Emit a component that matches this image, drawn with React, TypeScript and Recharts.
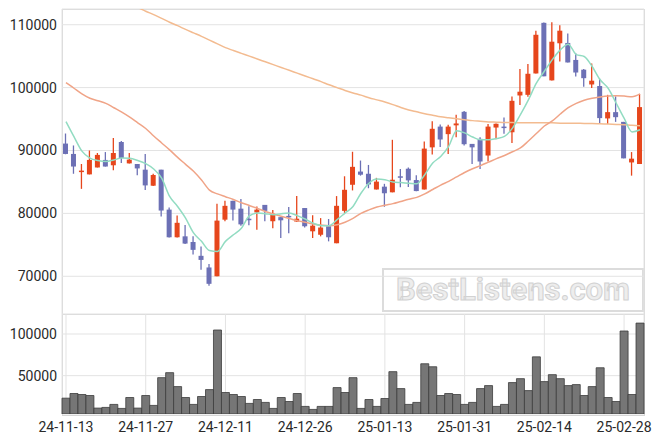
import React from 'react';
import { ComposedChart, BarChart, Bar, Line, XAxis, YAxis, CartesianGrid } from 'recharts';

const dates = [
  '24-11-13', '24-11-14', '24-11-15', '24-11-18', '24-11-19', '24-11-20', '24-11-21', '24-11-22', '24-11-25', '24-11-26',
  '24-11-27', '24-11-28', '24-11-29', '24-12-02', '24-12-03', '24-12-04', '24-12-05', '24-12-06', '24-12-09', '24-12-10',
  '24-12-11', '24-12-12', '24-12-13', '24-12-16', '24-12-17', '24-12-18', '24-12-19', '24-12-20', '24-12-23', '24-12-24',
  '24-12-26', '24-12-27', '24-12-30', '25-01-02', '25-01-03', '25-01-06', '25-01-07', '25-01-08', '25-01-09', '25-01-10',
  '25-01-13', '25-01-14', '25-01-15', '25-01-16', '25-01-17', '25-01-20', '25-01-21', '25-01-22', '25-01-23', '25-01-24',
  '25-01-31', '25-02-03', '25-02-04', '25-02-05', '25-02-06', '25-02-07', '25-02-10', '25-02-11', '25-02-12', '25-02-13',
  '25-02-14', '25-02-17', '25-02-18', '25-02-19', '25-02-20', '25-02-21', '25-02-24', '25-02-25', '25-02-26', '25-02-27',
  '25-02-28', '25-03-04', '25-03-05',
];

const opens = [
  91100, 89450, 86700, 86200, 87300, 88500, 87650, 91350, 87950, 87850,
  86950, 84400, 86950, 80600, 76200, 76350, 75450, 73250, 71400, 70000,
  79000, 82000, 80750, 79150, 80150, 81350, 78750, 79400, 79600, 78700,
  80850, 77150, 76600, 77950, 75250, 80400, 84550, 86650, 86300, 83800,
  84250, 83350, 85900, 87100, 85300, 83800, 90500, 93800, 92600, 94000,
  96150, 91050, 91850, 89200, 93650, 93800, 92900, 98750, 98850, 102250,
  110300, 101150, 107050, 107100, 104400, 102850, 100500, 100250, 95100, 96100,
  94550, 88100, 87850,
];
const highs = [
  92700, 90800, 87850, 90000, 89600, 89750, 92000, 91500, 89600, 87850,
  89450, 86300, 86950, 80950, 79650, 78150, 76350, 74750, 71950, 81550,
  82000, 82000, 82300, 81150, 81100, 81350, 80550, 79400, 81000, 82750,
  80850, 79700, 79250, 79100, 82750, 85900, 89800, 88400, 87700, 85650,
  84700, 91700, 87050, 87300, 86050, 91450, 94650, 94150, 94100, 95700,
  96300, 91050, 92100, 94200, 94300, 95250, 98600, 102950, 103750, 109050,
  110350, 110400, 109900, 108600, 105450, 102950, 103850, 101400, 98850, 98600,
  94550, 89750, 99000,
];
const lows = [
  89400, 86300, 83900, 86200, 87300, 87450, 86850, 88000, 87950, 86050,
  83700, 84350, 79500, 76150, 76150, 75150, 73450, 71050, 68500, 70000,
  78750, 78850, 78050, 78100, 77400, 78750, 77650, 76100, 76850, 78650,
  77750, 76100, 76350, 75550, 75250, 80050, 83650, 86000, 84000, 83800,
  81050, 83350, 84150, 84200, 83500, 83800, 89350, 90550, 89450, 92100,
  90800, 87850, 87050, 88250, 91800, 92650, 91200, 97250, 98550, 102250,
  101800, 101150, 104150, 104000, 101750, 100150, 99950, 94200, 94200, 94550,
  88750, 86000, 87850,
];
const closes = [
  89450, 87450, 86800, 88500, 89300, 87450, 89600, 88800, 88550, 87150,
  84450, 86100, 80450, 76200, 78500, 75200, 74200, 72600, 68800, 78850,
  81200, 80600, 78250, 79050, 80600, 80400, 79950, 78900, 79550, 79150,
  77950, 78050, 77750, 76200, 81200, 83750, 87400, 86150, 84600, 85050,
  83200, 85350, 85800, 85250, 83550, 90300, 93450, 91750, 93800, 94300,
  91000, 90500, 88250, 93800, 94250, 93750, 97900, 99350, 102200, 108400,
  101800, 107300, 109050, 104000, 102400, 101500, 101100, 95150, 96100, 95300,
  88750, 88700, 96900,
];

const ma5 = [
  94600, 92200, 89900, 88800, 88400, 88250, 88500, 88800, 88750, 88400,
  87900, 87050, 85600, 82700, 81100, 79250, 76900, 75550, 74100, 73950,
  75550, 76600, 77650, 79600, 80050, 79950, 79800, 79950, 80050, 79650,
  79100, 78450, 78050, 78050, 79000, 80050, 81100, 83200, 84800, 85450,
  85350, 85000, 84900, 84800, 84700, 86150, 88000, 89050, 90650, 93150,
  92800, 92150, 91700, 91700, 91900, 92250, 93550, 95700, 98050, 100700,
  102600, 104450, 106000, 106900, 105250, 104950, 103350, 101250, 99900, 97550,
  95150, 92950, 93300,
];
const ma20 = [
  100800, 99900, 99000, 98300, 97900, 97500, 96800, 96100, 95300, 94400,
  93500, 92300, 91200, 90100, 88900, 87800, 86700, 85300, 83700, 83100,
  82650, 82200, 81700, 81250, 80800, 80300, 79900, 79550, 79200, 78850,
  78600, 78300, 78150, 78050, 78200, 78600, 79200, 80000, 80550, 81000,
  81300, 81550, 81900, 82250, 82550, 83100, 83800, 84500, 85100, 85800,
  86500, 87100, 87600, 88150, 88700, 89200, 89800, 90400, 91500, 92700,
  93900, 94700, 95800, 96800, 97500, 98000, 98300, 98500, 98650, 98700,
  98650, 98550, 99000,
];
const ma60 = [
  118000, 117400, 116800, 116250, 115700, 115100, 114500, 113900, 113300, 112750,
  112150, 111600, 111000, 110400, 109850, 109250, 108700, 108150, 107550, 106950,
  106350, 105900, 105450, 105000, 104550, 104100, 103650, 103200, 102750, 102300,
  101850, 101400, 100950, 100450, 100000, 99550, 99150, 98800, 98400, 98050,
  97700, 97300, 96850, 96450, 96150, 95850, 95600, 95350, 95200, 95050,
  94900, 94750, 94650, 94550, 94500, 94450, 94450, 94400, 94400, 94400,
  94400, 94400, 94350, 94350, 94350, 94300, 94300, 94250, 94200, 94150,
  94100, 94000, 93950,
];

const volumes = [
  23000, 28600, 27400, 26200, 11100, 11900, 15500, 10700, 23800, 11100,
  26200, 14300, 47600, 53600, 36900, 23800, 15500, 25000, 33300, 104800,
  29800, 27400, 25000, 16700, 21400, 17900, 10700, 23800, 19000, 28600,
  13100, 9500, 13100, 13100, 35700, 29800, 47600, 10700, 21400, 13100,
  22600, 54800, 34500, 15500, 17900, 64300, 60700, 26200, 28600, 27400,
  15500, 17900, 34500, 38100, 13100, 15500, 41700, 46400, 32100, 72600,
  42900, 51200, 46400, 38100, 39300, 26200, 36900, 59500, 23800, 19000,
  103600, 27400, 113100,
];

const tickDates = ['24-11-13', '24-11-27', '24-12-11', '24-12-26', '25-01-13', '25-01-31', '25-02-14', '25-02-28'];
const priceTicks = [70000, 80000, 90000, 100000, 110000];
const volumeTicks = [50000, 100000];

const RED = '#e6461c';
const BLUE = '#6c70b5';
const GRID = '#e3e3e3';
const FRAME = '#d6d6d6';

function Candle(props: any) {
  const { x, y, width, height, payload } = props;
  if (x == null || y == null || !payload) return null;
  const { open, close, high, low } = payload;
  const top = Math.min(y, y + height);
  const h = Math.abs(height);
  const toY = (v: number) => (high === low ? top : top + ((high - v) / (high - low)) * h);
  const color = close >= open ? RED : BLUE;
  const bodyTop = toY(Math.max(open, close));
  const bodyBot = toY(Math.min(open, close));
  const cx = x + width / 2;
  return (
    <g>
      <line x1={cx} x2={cx} y1={top} y2={top + h} stroke={color} strokeWidth={1.3} />
      <rect x={x} y={bodyTop} width={width} height={Math.max(bodyBot - bodyTop, 1.5)} fill={color} />
    </g>
  );
}

const tickStyle = { fontSize: 14, fill: '#2a2a2a', fontFamily: 'Roboto, sans-serif' };

export default function App() {
  const data = dates.map((d, i) => ({
    date: d,
    range: [lows[i], highs[i]],
    open: opens[i],
    high: highs[i],
    low: lows[i],
    close: closes[i],
    ma5: ma5[i],
    ma20: ma20[i],
    ma60: ma60[i],
    volume: volumes[i],
  }));

  return (
    <div style={{ position: 'absolute', left: 0, top: 0, width: 663, height: 444, background: '#fff', overflow: 'hidden', fontFamily: 'Roboto, sans-serif' }}>
      {/* panel frames */}
      <div style={{ position: 'absolute', left: 62, top: 9, width: 581, height: 305, border: `1px solid ${FRAME}`, borderBottom: 'none' }} />
      <div style={{ position: 'absolute', left: 62, top: 314, width: 581, height: 100, border: `1px solid ${FRAME}` }} />
      {/* watermark */}
      <div
        style={{
          position: 'absolute', left: 382, top: 268, width: 258, height: 40,
          border: '2px solid #dcdcdc', color: '#ededed', WebkitTextStroke: '1px #d2d2d2',
          fontSize: 31, fontWeight: 'bold', lineHeight: '40px', textAlign: 'center', fontFamily: 'Roboto, sans-serif',
        }}
      >
        BestListens.com
      </div>

      <div style={{ position: 'absolute', left: 0, top: 0 }}>
        <ComposedChart width={663} height={314} data={data} margin={{ top: 9, right: 19, bottom: 0, left: 0 }}>
          <CartesianGrid stroke={GRID} />
          <XAxis dataKey="date" ticks={tickDates} interval={0} tick={false} tickLine={false} axisLine={false} height={0} />
          <YAxis
            width={62}
            domain={[64000, 112500]}
            ticks={priceTicks}
            allowDataOverflow
            tickLine={false}
            axisLine={false}
            tickSize={3}
            tickMargin={2}
            tick={tickStyle}
          />
          <Line type="monotone" dataKey="ma60" stroke="#f3bb90" strokeWidth={1.5} dot={false} isAnimationActive={false} />
          <Line type="monotone" dataKey="ma20" stroke="#f0a487" strokeWidth={1.5} dot={false} isAnimationActive={false} />
          <Line type="monotone" dataKey="ma5" stroke="#92dcc2" strokeWidth={1.5} dot={false} isAnimationActive={false} />
          <Bar dataKey="range" barSize={5} isAnimationActive={false} shape={(p: any) => <Candle {...p} />} />
        </ComposedChart>
      </div>

      <div style={{ position: 'absolute', left: 0, top: 314 }}>
        <BarChart width={663} height={130} data={data} margin={{ top: 0, right: 19, bottom: 0, left: 0 }} barCategoryGap={0}>
          <CartesianGrid stroke={GRID} />
          <XAxis dataKey="date" ticks={tickDates} interval={0} height={30} tickLine={false} axisLine={false} tick={tickStyle} />
          <YAxis
            width={62}
            domain={[4000, 124000]}
            ticks={volumeTicks}
            allowDataOverflow
            tickLine={false}
            axisLine={false}
            tickSize={3}
            tickMargin={2}
            tick={tickStyle}
          />
          <Bar dataKey="volume" fill="#767676" stroke="#3c3c3c" strokeWidth={0.8} isAnimationActive={false} />
        </BarChart>
      </div>
    </div>
  );
}
